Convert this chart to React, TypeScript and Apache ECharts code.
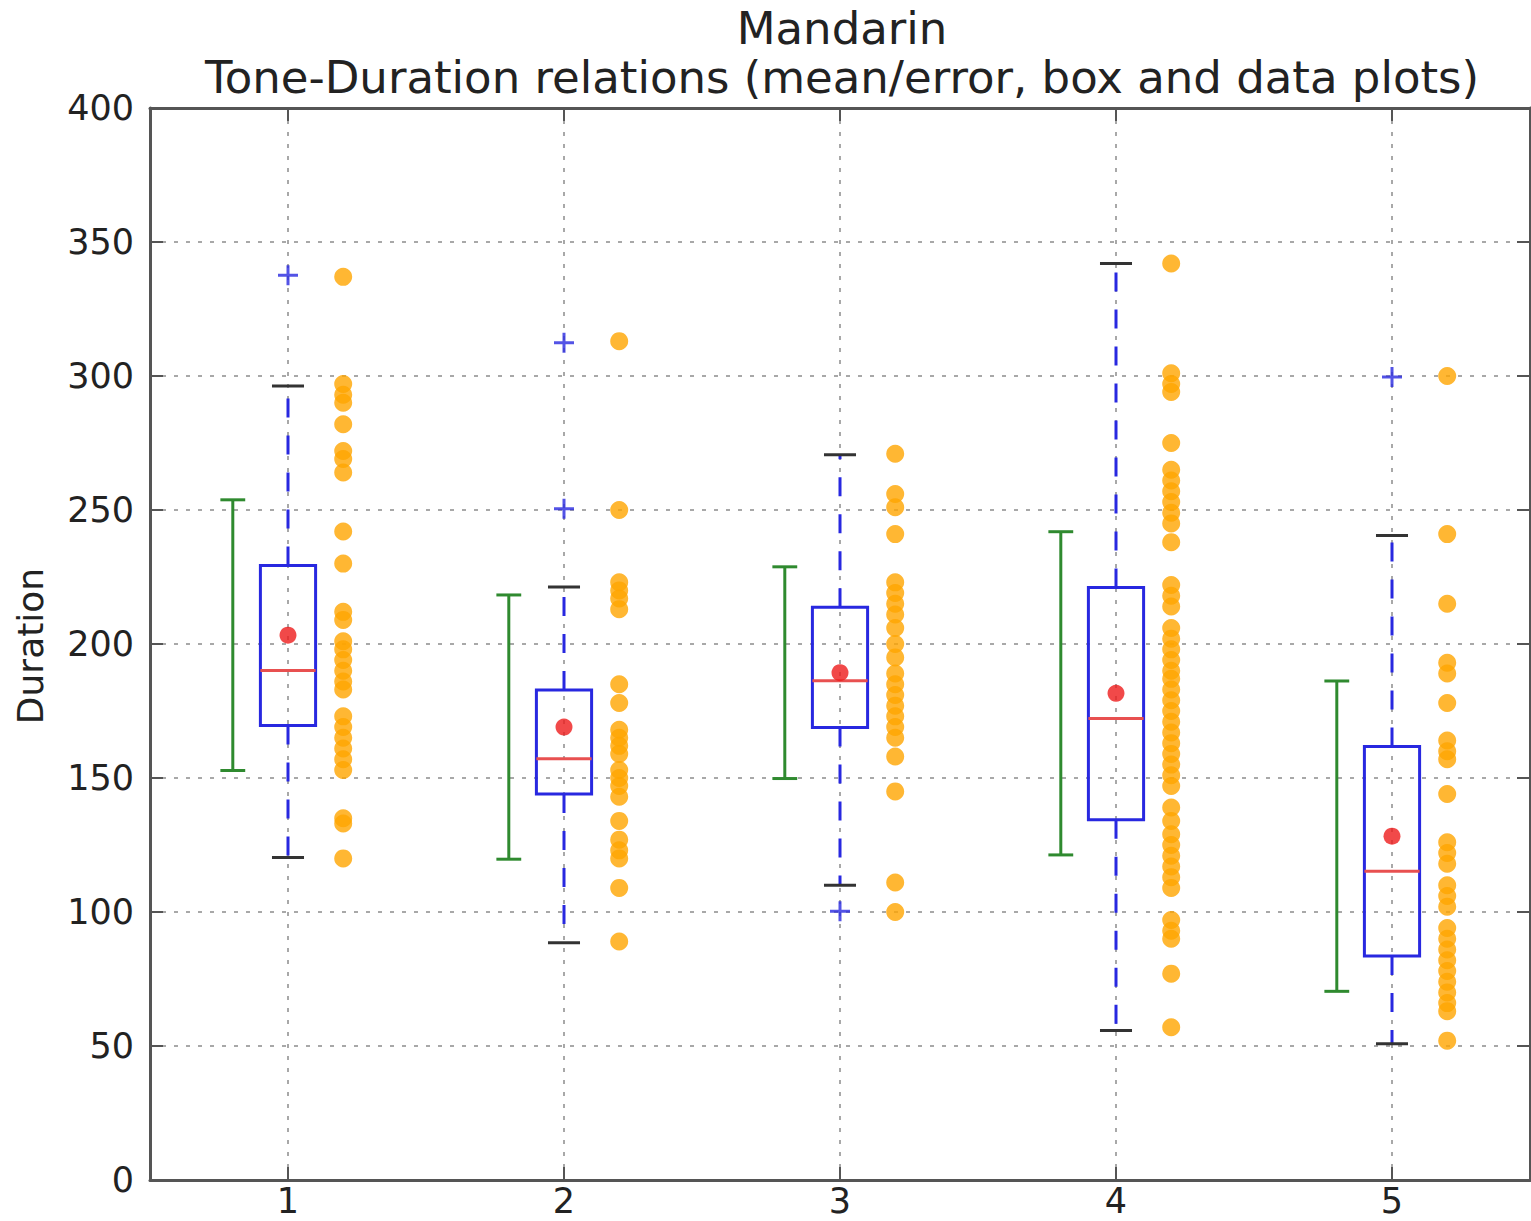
import React, { useEffect, useRef } from "react";
import * as echarts from "echarts";

// ---------- data ----------
const tones = [1, 2, 3, 4, 5];
const means = [203.3, 169.0, 189.3, 181.6, 128.3];
const errors = [50.5, 49.3, 39.5, 60.3, 57.9];
const whiskerLow = [120.3, 88.5, 110.0, 55.8, 50.8];
const q1 = [169.6, 144.0, 168.8, 134.4, 83.6];
const medians = [190.1, 157.2, 186.3, 172.2, 115.2];
const q3 = [229.3, 182.8, 213.7, 221.1, 161.8];
const whiskerHigh = [296.3, 221.3, 270.6, 342.0, 240.5];
const fliers = [
  [1, 337.6],
  [2, 312.4],
  [2, 250.5],
  [3, 100.3],
  [5, 299.6],
];
const pointsTone1 = [337, 297, 293, 290, 282, 272, 269, 264, 242, 230, 212, 209, 201, 198, 194, 190, 186, 183, 173, 169, 165, 161, 157, 153, 135, 133, 120];
const pointsTone2 = [313, 250, 223, 220, 217, 213, 185, 178, 168, 165, 162, 159, 153, 150, 147, 143, 134, 127, 123, 120, 109, 89];
const pointsTone3 = [271, 256, 251, 241, 223, 219, 215, 211, 206, 200, 195, 189, 185, 181, 177, 173, 169, 165, 158, 145, 111, 100];
const pointsTone4 = [342, 301, 297, 294, 275, 265, 261, 257, 253, 249, 245, 238, 222, 218, 214, 206, 202, 198, 194, 190, 187, 183, 179, 175, 171, 167, 163, 159, 155, 151, 147, 139, 134, 129, 125, 121, 117, 113, 109, 97, 93, 90, 77, 57];
const pointsTone5 = [300, 241, 215, 193, 189, 178, 164, 160, 157, 144, 126, 122, 118, 110, 106, 102, 94, 90, 86, 82, 78, 74, 70, 66, 63, 52];
const yTicks = { min: 0, max: 400, interval: 50 };
const titleLine1 = "Mandarin";
const titleLine2 = "Tone-Duration relations (mean/error, box and data plots)";
const yName = "Duration";

// ---------- styling ----------
const FONT = "'DejaVu Sans', 'Bitstream Vera Sans', sans-serif";
const BLUE = "#2828e0";
const RED = "#ee1c1c";
const MEDIAN = "#e85050";
const GREEN = "#2f8a2f";
const ORANGE = "#ffa500";
const CAP = "#333333";
const SPINE = "#555555";
const GRID = "#a8a8a8";
const TEXT = "#222222";
const ERR_OFFSET = -0.2;
const PTS_OFFSET = 0.2;

export default function App() {
  const ref = useRef<HTMLDivElement>(null);

  useEffect(() => {
    document.body.style.margin = "0";
    if (!ref.current) return;
    const chart = echarts.init(ref.current, undefined, { renderer: "svg" });

    const pointSets = [pointsTone1, pointsTone2, pointsTone3, pointsTone4, pointsTone5];
    const pointData: number[][] = [];
    pointSets.forEach((arr, i) => arr.forEach((v) => pointData.push([tones[i] + PTS_OFFSET, v])));

    const errData = tones.map((t, i) => [t + ERR_OFFSET, means[i] - errors[i], means[i] + errors[i]]);
    const boxData = tones.map((t, i) => [t, whiskerLow[i], q1[i], medians[i], q3[i], whiskerHigh[i]]);
    const meanData = tones.map((t, i) => [t, means[i]]);

    const xCommon = {
      type: "value",
      min: 0.5,
      max: 5.5,
      axisLine: { show: true, onZero: false, lineStyle: { color: SPINE, width: 3 } },
      axisTick: { show: true, inside: true, length: 13, customValues: tones, lineStyle: { color: SPINE, width: 2 } },
    };
    const yCommon = {
      type: "value",
      min: yTicks.min,
      max: yTicks.max,
      interval: yTicks.interval,
      axisLine: { show: true, onZero: false, lineStyle: { color: SPINE, width: 3 } },
      axisTick: { show: true, inside: true, length: 13, lineStyle: { color: SPINE, width: 2 } },
    };

    const option: any = {
      animation: false,
      backgroundColor: "#ffffff",
      grid: { left: 150, right: 1, top: 108, bottom: 41 },
      xAxis: [
        {
          ...xCommon,
          position: "bottom",
          axisLabel: { customValues: tones, fontFamily: FONT, fontSize: 35, lineHeight: 30, color: TEXT, margin: 6 },
          splitLine: { show: true, lineStyle: { color: GRID, type: [4, 8], width: 2 } },
        },
        {
          ...xCommon,
          position: "top",
          axisLabel: { show: false },
          splitLine: { show: false },
        },
      ],
      yAxis: [
        {
          ...yCommon,
          position: "left",
          axisLabel: { fontFamily: FONT, fontSize: 35, color: TEXT, margin: 16 },
          splitLine: { show: true, lineStyle: { color: GRID, type: [4, 8], width: 2 } },
        },
        {
          ...yCommon,
          position: "right",
          axisLabel: { show: false },
          splitLine: { show: false },
        },
      ],
      graphic: [
        {
          type: "text",
          x: 842,
          y: 28,
          style: { text: titleLine1, align: "center", verticalAlign: "middle", textAlign: "center", textVerticalAlign: "middle", fontSize: 45, fontFamily: FONT, fill: TEXT },
        },
        {
          type: "text",
          x: 842,
          y: 77,
          style: { text: titleLine2, align: "center", verticalAlign: "middle", textAlign: "center", textVerticalAlign: "middle", fontSize: 45, fontFamily: FONT, fill: TEXT },
        },
        {
          type: "text",
          x: 30,
          y: 646,
          rotation: Math.PI / 2,
          style: { text: yName, align: "center", verticalAlign: "middle", textAlign: "center", textVerticalAlign: "middle", fontSize: 36, fontFamily: FONT, fill: TEXT },
        },
      ],
      series: [
        {
          type: "custom",
          name: "error",
          xAxisIndex: 0,
          yAxisIndex: 0,
          data: errData,
          encode: { x: 0, y: [1, 2] },
          renderItem: (params: any, api: any) => {
            const x = api.value(0);
            const lo = api.coord([x, api.value(1)]);
            const hi = api.coord([x, api.value(2)]);
            const cw = api.size([0.045, 0])[0];
            const st = { stroke: GREEN, lineWidth: 3 };
            return {
              type: "group",
              children: [
                { type: "line", shape: { x1: lo[0], y1: lo[1], x2: hi[0], y2: hi[1] }, style: st },
                { type: "line", shape: { x1: lo[0] - cw, y1: lo[1], x2: lo[0] + cw, y2: lo[1] }, style: st },
                { type: "line", shape: { x1: hi[0] - cw, y1: hi[1], x2: hi[0] + cw, y2: hi[1] }, style: st },
              ],
            };
          },
          z: 3,
        },
        {
          type: "custom",
          name: "box",
          xAxisIndex: 0,
          yAxisIndex: 0,
          data: boxData,
          encode: { x: 0, y: [1, 2, 3, 4, 5] },
          renderItem: (params: any, api: any) => {
            const x = api.value(0);
            const pLow = api.coord([x, api.value(1)]);
            const pQ1 = api.coord([x, api.value(2)]);
            const pMed = api.coord([x, api.value(3)]);
            const pQ3 = api.coord([x, api.value(4)]);
            const pHigh = api.coord([x, api.value(5)]);
            const hw = api.size([0.1, 0])[0];
            const cw = api.size([0.058, 0])[0];
            const cx = pLow[0];
            const dash = { stroke: BLUE, lineWidth: 3, lineDash: [19, 18] };
            const cap = { stroke: CAP, lineWidth: 3 };
            return {
              type: "group",
              children: [
                { type: "line", shape: { x1: cx, y1: pQ3[1], x2: cx, y2: pHigh[1] }, style: dash },
                { type: "line", shape: { x1: cx, y1: pQ1[1], x2: cx, y2: pLow[1] }, style: dash },
                { type: "line", shape: { x1: cx - cw, y1: pHigh[1], x2: cx + cw, y2: pHigh[1] }, style: cap },
                { type: "line", shape: { x1: cx - cw, y1: pLow[1], x2: cx + cw, y2: pLow[1] }, style: cap },
                {
                  type: "rect",
                  shape: { x: cx - hw, y: pQ3[1], width: 2 * hw, height: pQ1[1] - pQ3[1] },
                  style: { fill: "none", stroke: BLUE, lineWidth: 3 },
                },
                { type: "line", shape: { x1: cx - hw, y1: pMed[1], x2: cx + hw, y2: pMed[1] }, style: { stroke: MEDIAN, lineWidth: 3 } },
              ],
            };
          },
          z: 3,
        },
        {
          type: "scatter",
          name: "fliers",
          data: fliers,
          symbol: "path://M8.5,0h3v8.5h8.5v3h-8.5v8.5h-3v-8.5h-8.5v-3h8.5z",
          symbolSize: 20,
          itemStyle: { color: BLUE, opacity: 0.8 },
          z: 4,
        },
        {
          type: "scatter",
          name: "mean",
          data: meanData,
          symbol: "circle",
          symbolSize: 17,
          itemStyle: { color: RED },
          z: 5,
        },
        {
          type: "scatter",
          name: "data",
          data: pointData,
          symbol: "circle",
          symbolSize: 18,
          itemStyle: { color: ORANGE },
          z: 4,
        },
      ],
    };

    chart.setOption(option);
    return () => {
      chart.dispose();
    };
  }, []);

  return <div ref={ref} style={{ width: 1531, height: 1221 }} />;
}
